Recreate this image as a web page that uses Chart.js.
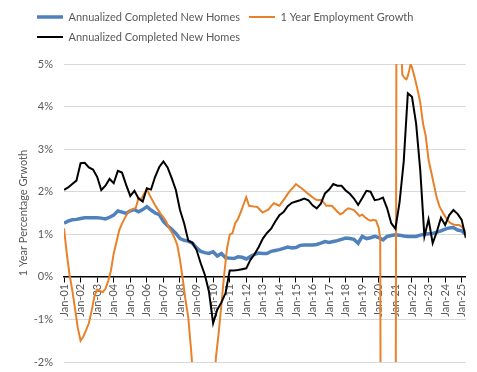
<!DOCTYPE html>
<html>
<head>
<meta charset="utf-8">
<script src="https://cdn.jsdelivr.net/npm/chart.js@4.4.1/dist/chart.umd.min.js"></script>
<style>
  html, body { margin: 0; padding: 0; background: #fff; }
  #wrap { width: 477px; height: 372px; position: relative; }
</style>
</head>
<body>
<div id="wrap"><canvas id="housingChart"></canvas></div>
<script>
// months counted from Jan-01 (0) to Apr-25 (291)
const lastMonth = 291;
const tickMonths = [0, 12, 24, 36, 48, 60, 72, 84, 96, 108, 120, 132, 144, 156, 168, 180, 192, 204, 216, 228, 240, 252, 264, 276, 288];
const tickLabels = ['Jan-01', 'Jan-02', 'Jan-03', 'Jan-04', 'Jan-05', 'Jan-06', 'Jan-07', 'Jan-08', 'Jan-09', 'Jan-10',
    'Jan-11', 'Jan-12', 'Jan-13', 'Jan-14', 'Jan-15', 'Jan-16', 'Jan-17', 'Jan-18', 'Jan-19', 'Jan-20',
    'Jan-21', 'Jan-22', 'Jan-23', 'Jan-24', 'Jan-25'];

// quarterly points for the two homes series
const quarterMonths = [];
for (let m = 0; m <= lastMonth; m += 3) quarterMonths.push(m);

const blueHomes = [
    1.26, 1.31, 1.34, 1.35, 1.37, 1.39, 1.39, 1.39, 1.39, 1.38,
    1.36, 1.40, 1.45, 1.55, 1.52, 1.49, 1.55, 1.58, 1.53, 1.58,
    1.65, 1.57, 1.50, 1.46, 1.30, 1.20, 1.12, 1.02, 0.90, 0.86,
    0.84, 0.79, 0.68, 0.60, 0.57, 0.55, 0.59, 0.49, 0.55, 0.45,
    0.44, 0.43, 0.47, 0.46, 0.42, 0.48, 0.53, 0.56, 0.55, 0.55,
    0.60, 0.62, 0.64, 0.67, 0.70, 0.68, 0.69, 0.74, 0.75, 0.75,
    0.75, 0.76, 0.79, 0.83, 0.81, 0.83, 0.85, 0.88, 0.91, 0.90,
    0.88, 0.79, 0.95, 0.90, 0.92, 0.95, 0.92, 0.87, 0.95, 0.97,
    0.99, 0.98, 0.96, 0.95, 0.95, 0.95, 0.98, 1.00, 1.01, 1.02,
    1.05, 1.08, 1.12, 1.15, 1.16, 1.10, 1.08, 1.00
];

const blackHomes = [
    2.04, 2.10, 2.18, 2.26, 2.67, 2.68, 2.57, 2.52, 2.35, 2.04,
    2.14, 2.30, 2.20, 2.49, 2.45, 2.16, 1.90, 2.02, 1.84, 1.77,
    2.08, 2.05, 2.35, 2.58, 2.71, 2.57, 2.32, 2.04, 1.57, 1.26,
    0.85, 0.80, 0.63, 0.32, 0.05, -0.35, -1.09, -0.77, -0.60, -0.38,
    0.15, 0.15, 0.16, 0.18, 0.20, 0.40, 0.53, 0.70, 0.90, 1.03,
    1.13, 1.30, 1.45, 1.52, 1.66, 1.74, 1.77, 1.80, 1.84, 1.80,
    1.68, 1.61, 1.72, 1.96, 2.05, 2.18, 2.14, 2.14, 2.03, 1.95,
    1.84, 1.69, 1.85, 2.02, 2.00, 1.80, 1.82, 1.86, 1.61, 1.26,
    1.13, 1.75, 2.70, 4.31, 4.23, 3.60, 2.50, 0.95, 1.35, 0.79,
    1.06, 1.39, 1.22, 1.45, 1.57, 1.48, 1.34, 0.91
];

const jobMonths = [
    0, 2, 4, 6, 8, 10, 12, 14, 16, 18, 20, 22, 24, 26, 28, 30, 32, 34, 36, 38,
    40, 42, 44, 46, 48, 50, 52, 54, 56, 58, 60, 62, 64, 66, 68, 70, 72, 74, 76, 78,
    80, 82, 84, 86, 88, 90, 92, 94, 96, 98, 100, 102, 104, 106, 108, 110, 112, 114, 116, 118,
    120, 122, 124, 126, 128, 130, 132, 134, 136, 138, 140, 142, 144, 146, 148, 150, 152, 154, 156, 158,
    160, 162, 164, 166, 168, 170, 172, 174, 176, 178, 180, 182, 184, 186, 188, 190, 192, 194, 196, 198,
    200, 202, 204, 206, 208, 210, 212, 214, 216, 218, 220, 222, 224, 226, 228, 229, 230, 232, 234, 236,
    238, 240, 241, 242, 243, 244, 245, 246, 247, 248, 249, 250, 251, 252, 253, 254, 256, 258, 260, 262,
    264, 266, 268, 270, 272, 274, 276, 278, 280, 282, 284, 286, 288, 290, 291
];
const jobGrowth = [
    1.14, 0.55, 0.05, -0.31, -0.75, -1.20, -1.50, -1.40, -1.25, -1.09, -0.80, -0.46, -0.30, -0.33, -0.36, -0.28, -0.10, 0.15, 0.55, 0.82,
    1.10, 1.25, 1.38, 1.50, 1.57, 1.59, 1.62, 1.85, 1.83, 1.95, 2.06, 1.92, 1.80, 1.68, 1.58, 1.48, 1.40, 1.30, 1.15, 1.05,
    0.92, 0.75, 0.40, -0.05, -0.55, -0.95, -1.70, -2.60, -3.40, -4.20, -4.60, -4.70, -4.40, -3.80, -2.90, -1.90, -1.32, -0.65, 0.05, 0.65,
    0.99, 1.03, 1.26, 1.36, 1.52, 1.70, 1.87, 1.67, 1.66, 1.65, 1.64, 1.57, 1.51, 1.55, 1.58, 1.66, 1.73, 1.70, 1.67, 1.76,
    1.85, 1.95, 2.03, 2.10, 2.18, 2.13, 2.08, 2.03, 1.97, 1.92, 1.87, 1.82, 1.80, 1.81, 1.75, 1.67, 1.67, 1.67, 1.60, 1.53,
    1.47, 1.50, 1.57, 1.61, 1.59, 1.57, 1.50, 1.43, 1.46, 1.40, 1.35, 1.32, 1.34, 1.32, 1.14, 0.90, -12.0, -9.0, -7.0, -6.5,
    -6.2, -7.0, 10.0, 9.0, 7.0, 5.6, 4.75, 4.70, 4.66, 4.64, 4.72, 4.85, 5.0, 4.92, 4.80, 4.68, 4.40, 4.10, 3.60, 3.30,
    2.75, 2.45, 2.15, 1.85, 1.65, 1.53, 1.42, 1.32, 1.26, 1.23, 1.22, 1.22, 1.18, 1.10, 1.06
];

const blueData = quarterMonths.map((m, i) => ({ x: m, y: blueHomes[i] }));
const blackData = quarterMonths.map((m, i) => ({ x: m, y: blackHomes[i] }));
const jobData = jobMonths.map((m, i) => ({ x: m, y: jobGrowth[i] }));

const textGrey = '#595959';
Chart.defaults.font.family = 'Lato, "Liberation Sans", sans-serif';
Chart.defaults.font.size = 11;
Chart.defaults.color = textGrey;

// Excel keeps the second legend row flush left with the first one,
// and leaves more room between legend and plot than Chart.js does
const legendShift = {
    id: 'legendShift',
    afterLayout(chart) {
        const lg = chart.legend;
        lg.left += 15;
        lg.right += 15;
        lg.top -= 11.5;
        lg.bottom -= 11.5;
    }
};

const ctx = document.getElementById('housingChart').getContext('2d');
new Chart(ctx, {
    type: 'line',
    data: {
        datasets: [
            {
                label: 'Annualized Completed New Homes',
                data: blueData,
                borderColor: '#4f81bd',
                backgroundColor: '#4f81bd',
                borderWidth: 3.5,
                pointRadius: 0,
                pointStyle: 'line',
                order: 2
            },
            {
                label: '1 Year Employment Growth',
                data: jobData,
                borderColor: '#e8822a',
                backgroundColor: '#e8822a',
                borderWidth: 2,
                pointRadius: 0,
                pointStyle: 'line',
                order: 1
            },
            {
                label: 'Annualized Completed New Homes',
                data: blackData,
                borderColor: '#000000',
                backgroundColor: '#000000',
                borderWidth: 2,
                pointRadius: 0,
                pointStyle: 'line',
                order: 0
            }
        ]
    },
    options: {
        responsive: true,
        maintainAspectRatio: false,
        animation: false,
        layout: { padding: { left: 13, right: 11, top: 14, bottom: 0 } },
        plugins: {
            legend: {
                position: 'top',
                align: 'start',
                labels: {
                    usePointStyle: true,
                    pointStyleWidth: 26,
                    padding: 9,
                    color: textGrey,
                    sort: (a, b) => a.datasetIndex - b.datasetIndex
                }
            },
            tooltip: { enabled: false }
        },
        scales: {
            x: {
                type: 'linear',
                position: { y: 0 },
                min: 0,
                max: lastMonth,
                afterBuildTicks: (scale) => {
                    scale.ticks = tickMonths.map(v => ({ value: v }));
                },
                afterFit: (scale) => {
                    scale.height = 0;
                },
                grid: { display: true, drawOnChartArea: false, drawTicks: true, tickLength: 5, color: '#000000' },
                border: { display: true, color: '#000000', width: 1.5 },
                ticks: {
                    autoSkip: false,
                    minRotation: 90,
                    maxRotation: 90,
                    padding: 2,
                    color: textGrey,
                    callback: (value, index) => tickLabels[index]
                }
            },
            y: {
                min: -2,
                max: 5,
                afterFit: (scale) => {
                    scale.width = 51;
                    scale.paddingTop = 8;
                    scale.paddingBottom = 10;
                },
                ticks: {
                    stepSize: 1,
                    padding: 11,
                    color: textGrey,
                    callback: (value) => value + '%'
                },
                grid: { color: '#d9d9d9', drawTicks: false },
                border: { display: false },
                title: {
                    display: true,
                    text: '1 Year Percentage Grwoth',
                    color: textGrey
                }
            }
        }
    },
    plugins: [legendShift]
});
</script>
</body>
</html>
